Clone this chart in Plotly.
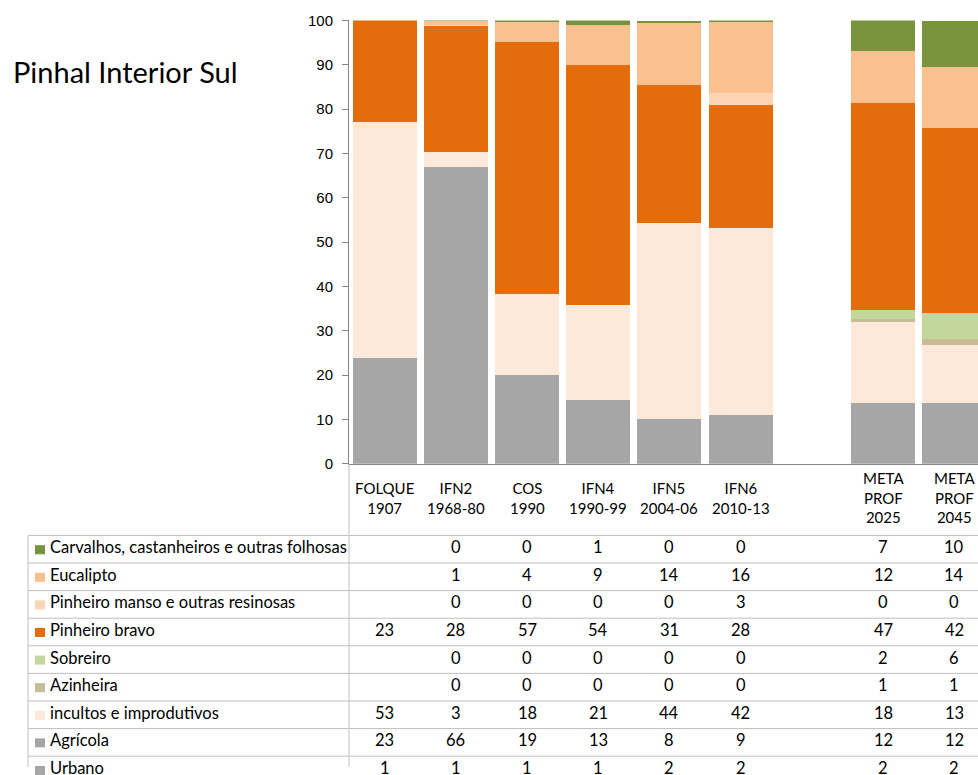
import plotly.graph_objects as go

W, H = 978, 775

categories = ["FOLQUE<br>1907", "IFN2<br>1968-80", "COS<br>1990", "IFN4<br>1990-99",
              "IFN5<br>2004-06", "IFN6<br>2010-13", "META<br>PROF<br>2025", "META<br>PROF<br>2045"]

# shares (%); the table shows them rounded
carvalhos = [None, 0.2, 0.3, 1.0, 0.4, 0.4, 6.9, 10.4]
eucalipto = [None, 0.9, 4.4, 9.1, 14.0, 15.9, 11.7, 13.8]
pinheiro_manso = [None, 0.2, 0.1, 0.0, 0.0, 2.7, 0.0, 0.0]
pinheiro_bravo = [22.8, 28.4, 56.8, 54.1, 31.3, 27.8, 46.8, 41.6]
sobreiro = [None, 0.0, 0.0, 0.0, 0.0, 0.0, 2.0, 5.9]
azinheira = [None, 0.0, 0.0, 0.0, 0.0, 0.0, 0.6, 1.4]
incultos = [53.4, 3.3, 18.3, 21.4, 44.2, 42.1, 18.2, 13.0]
agricola = [23.0, 66.0, 19.0, 13.4, 8.0, 9.1, 11.8, 11.8]
urbano = [0.8, 1.0, 1.0, 1.0, 2.0, 2.0, 2.0, 2.0]

# table order, top to bottom (stack is drawn bottom to top)
rows = [
    ("Carvalhos, castanheiros e outras folhosas", carvalhos, "#77933C"),
    ("Eucalipto", eucalipto, "#FAC090"),
    ("Pinheiro manso e outras resinosas", pinheiro_manso, "#FCD5B5"),
    ("Pinheiro bravo", pinheiro_bravo, "#E46C0A"),
    ("Sobreiro", sobreiro, "#C3D69B"),
    ("Azinheira", azinheira, "#C4BD97"),
    ("incultos e improdutivos", incultos, "#FDE9D9"),
    ("Agrícola", agricola, "#A6A6A6"),
    ("Urbano", urbano, "#A6A6A6"),
]

# empty slot between IFN6 and the targets
x_cats = categories[:6] + [" "] + categories[6:]


def pad(vals):
    return vals[:6] + [None] + vals[6:]


# target pixel -> paper fraction (vertical tweak measured from earlier renders)
def px(x):
    return x / W


def py(y):
    return 1 - ((y - 9.6) / 0.973) / H


FONT = "Lato"
fig = go.Figure()
for name, vals, col in reversed(rows):
    fig.add_trace(go.Bar(x=x_cats, y=pad(vals), name=name,
                         marker=dict(color=col, line=dict(width=0))))

ann = []
shapes = []

# category labels under the axis
for i, cat in enumerate(x_cats):
    if cat.strip():
        ann.append(dict(x=i, xref="x", y=py(496), yref="paper", text=cat, showarrow=False,
                        xanchor="center", yanchor="middle", align="center",
                        font=dict(family=FONT, size=15, color="black")))

# data table
row_top = 533.3
row_h = 27.45
for r, (name, vals, col) in enumerate(rows):
    yc = row_top + row_h * r + row_h / 2
    shapes.append(dict(type="rect", xref="paper", yref="paper",
                       x0=px(35), x1=px(45), y0=py(yc - 4), y1=py(yc + 5),
                       fillcolor=col, line=dict(width=0)))
    ann.append(dict(x=px(48), xref="paper", y=py(yc - 2), yref="paper", text=name, showarrow=False,
                    xanchor="left", yanchor="middle", font=dict(family=FONT, size=16.5, color="black")))
    for i, v in enumerate(pad(vals)):
        if v is None:
            continue
        ann.append(dict(x=i, xref="x", y=py(yc - 2), yref="paper", text=f"{v:.0f}", showarrow=False,
                        xanchor="center", yanchor="middle", font=dict(family=FONT, size=16.5, color="black")))

for r in range(len(rows) + 1):
    y = row_top + row_h * r
    shapes.append(dict(type="line", xref="paper", yref="paper", x0=px(28), x1=1,
                       y0=py(y), y1=py(y), line=dict(color="#BFBFBF", width=1)))
shapes.append(dict(type="line", xref="paper", yref="paper", x0=px(28), x1=px(28),
                   y0=py(row_top), y1=0, line=dict(color="#BFBFBF", width=1)))
shapes.append(dict(type="line", xref="paper", yref="paper", x0=px(349), x1=px(349),
                   y0=py(462), y1=0, line=dict(color="#BFBFBF", width=1)))

ann.append(dict(x=px(11), xref="paper", y=py(72), yref="paper", text="Pinhal Interior Sul",
                showarrow=False, xanchor="left", yanchor="middle",
                font=dict(family=FONT, size=29, color="black")))

plot_left = 349
pitch = 71.2
x_max = -0.5 + (W - plot_left) / pitch

fig.update_layout(
    width=W, height=H,
    margin=dict(l=0, r=0, t=0, b=0),
    paper_bgcolor="white", plot_bgcolor="white",
    barmode="stack", bargap=0.1,
    showlegend=False,
    xaxis=dict(domain=[px(plot_left), 1], range=[-0.5, x_max], type="category",
               categoryorder="array", categoryarray=x_cats,
               showticklabels=False, ticks="", showline=True, linecolor="#868686",
               showgrid=False, zeroline=False, fixedrange=True),
    yaxis=dict(domain=[py(462), py(21)], range=[0, 100], dtick=10,
               ticks="outside", ticklen=6, tickcolor="#868686",
               showline=True, linecolor="#868686", showgrid=False, zeroline=False,
               tickfont=dict(family="Liberation Sans", size=15, color="black"),
               ticklabelstandoff=6),
    annotations=ann,
    shapes=shapes,
)

# page margin off so the 978x775 figure fills the window exactly
fig.write_html("out.html", config={"displayModeBar": False},
               post_script="document.body.style.margin='0';document.body.style.overflow='hidden';")
